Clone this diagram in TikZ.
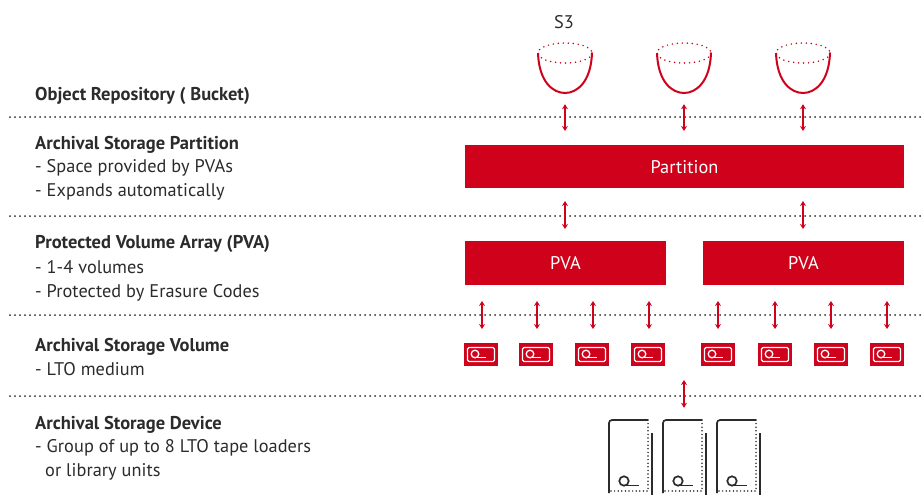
\documentclass[tikz,border=0pt]{standalone}
\usepackage{fontspec}
\setmainfont{PT Sans}
\newfontfamily\spaced[LetterSpace=0.3]{PT Sans}
\definecolor{rd}{HTML}{D0021B}
\definecolor{ink}{HTML}{2B2B2B}
\usetikzlibrary{arrows.meta}
\tikzset{
 x=1pt,y=-1pt,
 lab/.style={anchor=base west,inner sep=0pt,text=ink,font=\spaced\fontsize{18.3}{20}\selectfont},
 head/.style={anchor=base west,inner sep=0pt,text=ink,font=\fontsize{18.5}{20}\selectfont\bfseries},
 block/.style={anchor=north west,fill=rd,inner sep=0pt,text=white,font=\spaced\fontsize{18.3}{20}\selectfont},
 tape/.style={anchor=north west,fill=rd,inner sep=0pt,minimum width=34pt,minimum height=23pt},
 twoway/.style={rd,line width=1.5pt,{Stealth[length=5pt,width=6pt]}-{Stealth[length=5pt,width=6pt]}},
 sep/.style={ink,line width=2pt,line cap=round,dash pattern=on 0pt off 5pt},
 anchorpt/.style={inner sep=0pt,minimum size=0pt},
}
\begin{document}
\begin{tikzpicture}
\useasboundingbox (0,0) rectangle (924,495);
% separators
\foreach \y in {117,216,315,396} \draw[sep] (10,\y) -- (924,\y);
% labels
\node[head] at (35,100) {Object Repository ( Bucket)};
\node[head] at (35,149) {Archival Storage Partition};
\node[lab] at (35,172) {- Space provided by PVAs};
\node[lab] at (35,196) {- Expands automatically};
\node[head] at (35,248) {Protected Volume Array (PVA)};
\node[lab] at (35,273) {- 1-4 volumes};
\node[lab] at (35,297) {- Protected by Erasure Codes};
\node[head] at (35,351) {Archival Storage Volume};
\node[lab] at (35,375) {- LTO medium};
\node[head] at (35,429) {Archival Storage Device};
\node[lab] at (35,452) {- Group of up to 8 LTO tape loaders};
\node[lab] at (45,476) {or library units};
\node[lab,anchor=base] at (564,29) {S3};
% buckets
\foreach \n/\x in {b1/565,b2/684,b3/803}{
  \node[anchorpt] (\n) at (\x,93) {};
  \draw[rd,line width=1.7pt,line cap=round,dash pattern=on 0pt off 5pt] (\x,53) ellipse[x radius=27,y radius=10];
  \draw[rd,line width=2pt] (\x-27,53) .. controls (\x-26,82) and (\x-12,93) .. (\x,93) .. controls (\x+12,93) and (\x+26,82) .. (\x+27,53);
}
% blocks
\node[block,minimum width=439.5pt,minimum height=43pt] (part) at (464.5,145) {Partition};
\node[block,minimum width=201.5pt,minimum height=44pt] (p1) at (464.5,241) {PVA};
\node[block,minimum width=201.5pt,minimum height=44pt] (p2) at (702.5,241) {PVA};
% tapes
\foreach \n/\x in {t1/464,t2/519,t3/575,t4/631,t5/701,t6/758,t7/814,t8/870}{
  \node[tape] (\n) at (\x,343) {};
  \draw[white,line width=1.3pt,rounded corners=1.5pt] (\x+3.5,347.5) rectangle (\x+30.5,361.5);
  \draw[white,line width=1.3pt] (\x+11,354) circle[radius=3.8];
  \draw[white,line width=1.3pt] (\x+11,357.5) -- (\x+22,357.5);
}
% devices
\foreach \n/\x in {d1/609,d2/663,d3/717}{
  \node[anchorpt] (\n) at (\x+19.5,420) {};
  \draw[ink,line width=1.7pt,rounded corners=3pt] (\x,493) -- (\x,420) -- (\x+39,420);
  \draw[ink,line width=1.7pt,line cap=round,dash pattern=on 0pt off 3.6pt] (\x+39,420) -- (\x+39,491) -- (\x,491);
  \draw[ink,line width=1.7pt] (\x+43,433) -- (\x+43,495);
  \draw[ink,line width=1.7pt] (\x+15,481) circle[radius=4.7];
  \draw[ink,line width=1.7pt] (\x+15,485.5) -- (\x+30,485.5);
}
% connectors
\foreach \a in {b1,b2,b3}
  \draw[twoway,shorten <=11pt,shorten >=14pt] (\a) -- (\a |- part.north);
\foreach \x/\t in {565/p1,803/p2}{
  \coordinate (cu) at (\x,188);
  \draw[twoway,shorten <=13pt,shorten >=12pt] (cu) -- (cu |- \t.north);
}
\foreach \x/\p/\t in {482/p1/t1,537/p1/t2,593/p1/t3,649/p1/t4,718/p2/t5,775/p2/t6,831/p2/t7,887/p2/t8}{
  \coordinate (cu) at (\x,285);
  \draw[twoway,shorten <=16pt,shorten >=14pt] (cu) -- (cu |- \t.north);
}
\coordinate (cv) at (684,366);
\draw[twoway,shorten <=14pt,shorten >=12pt] (cv) -- (cv |- d2.north);
\end{tikzpicture}
\end{document}
